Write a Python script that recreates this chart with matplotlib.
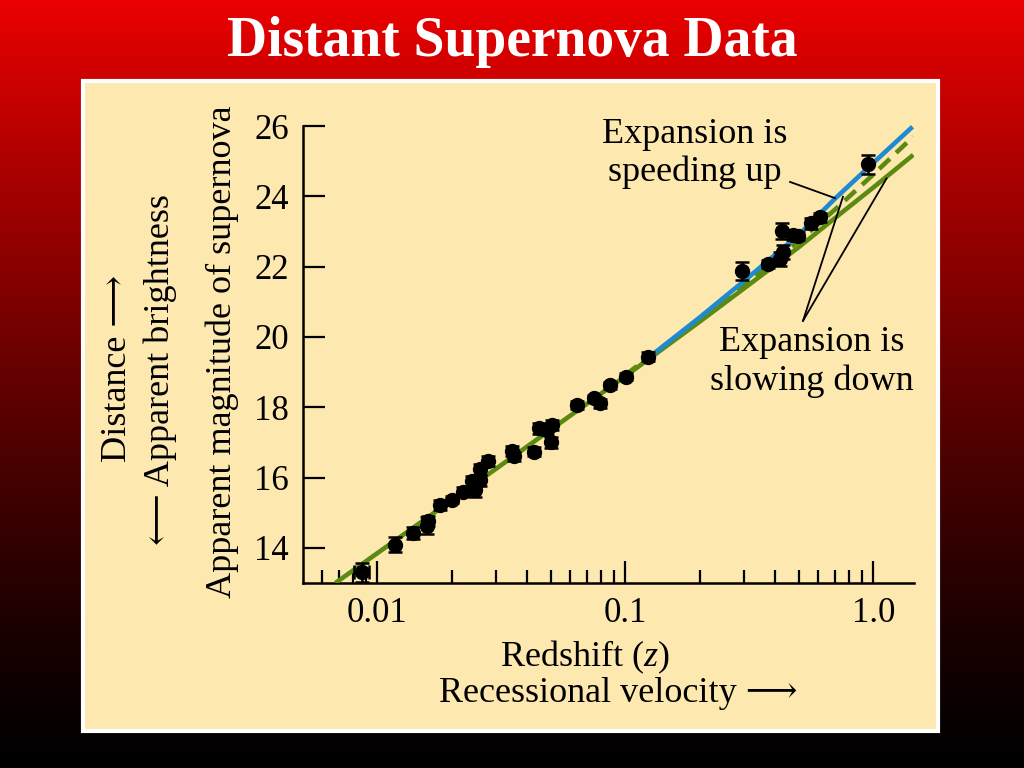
import numpy as np
import matplotlib
matplotlib.use("Agg")
import matplotlib.pyplot as plt
from matplotlib.patches import Rectangle
from matplotlib.ticker import FixedLocator, NullFormatter

plt.rcParams['font.family'] = ['Liberation Serif', 'DejaVu Serif', 'DejaVu Sans']
plt.rcParams['mathtext.fontset'] = 'custom'
plt.rcParams['mathtext.rm'] = 'Liberation Serif'
plt.rcParams['mathtext.it'] = 'Liberation Serif:italic'

# ---- data ----
z_data = [0.00868, 0.01174, 0.0140, 0.01585, 0.0160, 0.01795, 0.0200, 0.0221,
          0.0241, 0.0248, 0.0260, 0.0260, 0.0279, 0.0351, 0.0356, 0.0430,
          0.0447, 0.0483, 0.0508, 0.0503, 0.0639, 0.0745, 0.0793, 0.0870,
          0.1009, 0.124, 0.295, 0.376, 0.421, 0.434, 0.428, 0.476, 0.499,
          0.560, 0.610, 0.955]
m_data = [13.30, 14.09, 14.42, 14.63, 14.77, 15.22, 15.37, 15.60,
          15.89, 15.65, 15.92, 16.23, 16.47, 16.75, 16.60, 16.74,
          17.40, 17.36, 17.50, 17.00, 18.07, 18.25, 18.11, 18.62,
          18.87, 19.44, 21.88, 22.08, 22.21, 22.43, 23.02, 22.90, 22.87,
          23.23, 23.40, 24.91]
m_err = [0.28, 0.22, 0.17, 0.25, 0.15, 0.13, 0.10, 0.13,
         0.15, 0.20, 0.15, 0.15, 0.15, 0.15, 0.12, 0.12,
         0.15, 0.15, 0.15, 0.15, 0.12, 0.10, 0.12, 0.10,
         0.10, 0.12, 0.25, 0.12, 0.20, 0.20, 0.22, 0.15, 0.12,
         0.15, 0.12, 0.27]
z_err = [0.0006] + [0.0] * 35

slow_z = [0.00678, 0.03, 0.1, 0.2, 0.3, 0.5, 0.7, 1.0, 1.45]
slow_m = [13.0, 16.24, 18.88, 20.44, 21.37, 22.55, 23.38, 24.25, 25.18]
dash_z = [0.1, 0.2, 0.3, 0.5, 0.7, 1.0, 1.45]
dash_m = [18.92, 20.50, 21.48, 22.72, 23.62, 24.62, 25.70]
fast_z = [0.12, 0.2, 0.3, 0.5, 0.7, 1.0, 1.44]
fast_m = [19.33, 20.56, 21.58, 22.90, 23.93, 24.95, 25.98]

x_major = [0.01, 0.1, 1.0]
x_major_labels = ["0.01", "0.1", "1.0"]
x_minor = [0.006, 0.007, 0.008, 0.009, 0.02, 0.03, 0.04, 0.05, 0.06, 0.07, 0.08, 0.09,
           0.2, 0.3, 0.4, 0.5, 0.6, 0.7, 0.8, 0.9]
y_ticks = [14, 16, 18, 20, 22, 24, 26]

CREAM = '#FDE8B0'
GREEN = '#5C8A10'
BLUE = '#1E8AD2'

fig = plt.figure(figsize=(10.24, 7.68), dpi=100)

# background gradient (red -> black)
bg = fig.add_axes([0, 0, 1, 1], zorder=-10)
t = np.linspace(0, 1, 400)
r = 0.92 * (1 - t) ** 1.25
img = np.zeros((400, 2, 3))
img[:, :, 0] = r[:, None]
bg.imshow(img, aspect='auto', extent=[0, 1, 0, 1], origin='upper')
bg.set_axis_off()

# cream panel with white border
fig.patches.append(Rectangle((83 / 1024, 1 - 731 / 768), 855 / 1024, 650 / 768,
                             transform=fig.transFigure, facecolor=CREAM,
                             edgecolor='white', linewidth=3, zorder=-5))

fig.text(512 / 1024, 1 - 42 / 768, "Distant Supernova Data", color='white',
         fontsize=40, fontweight='bold', ha='center', va='center')

ax = fig.add_axes([303 / 1024, 1 - 583 / 768, 611 / 1024, 467.5 / 768])
ax.set_facecolor('none')
ax.set_xscale('log')
ax.set_xlim(0.00502, 1.46)
ax.set_ylim(13, 26.3)

ax.plot(slow_z, slow_m, color=GREEN, lw=3.3, solid_capstyle='butt', zorder=3)
ax.plot(dash_z, dash_m, color=GREEN, lw=3.3, dashes=(3.2, 1.9), zorder=3)
ax.plot(fast_z, fast_m, color=BLUE, lw=3.3, solid_capstyle='butt', zorder=4)

ax.errorbar(z_data, m_data, yerr=m_err, xerr=z_err, fmt='o', color='black',
            markersize=10, elinewidth=1.8, capsize=4.8, capthick=1.8, zorder=5)

for s in ['top', 'right']:
    ax.spines[s].set_visible(False)
for s in ['left', 'bottom']:
    ax.spines[s].set_linewidth(1.8)
ax.spines['left'].set_bounds(13, 26)

ax.xaxis.set_major_locator(FixedLocator(x_major))
ax.set_xticklabels(x_major_labels)
ax.xaxis.set_minor_locator(FixedLocator(x_minor))
ax.xaxis.set_minor_formatter(NullFormatter())
ax.set_yticks(y_ticks)
ax.tick_params(axis='both', which='major', direction='in', length=15.5, width=1.6,
               labelsize=25, pad=10)
ax.tick_params(axis='x', which='minor', direction='in', length=9.5, width=1.6)
ax.tick_params(axis='y', which='major', pad=10)

# y axis labels (three rotated lines)
fig.text(118 / 1024, 1 - 368 / 768, "Distance \u27f6", rotation=90, fontsize=26,
         ha='center', va='center')
fig.text(160 / 1024, 1 - 370 / 768, "\u27f5 Apparent brightness", rotation=90, fontsize=26,
         ha='center', va='center')
fig.text(222 / 1024, 1 - 352 / 768, "Apparent magnitude of supernova", rotation=90,
         fontsize=26, ha='center', va='center')

# x axis labels
fig.text(585 / 1024, 1 - 657 / 768, "Redshift ($z$)", fontsize=26, ha='center', va='center')
fig.text(618 / 1024, 1 - 693 / 768, "Recessional velocity \u27f6", fontsize=26,
         ha='center', va='center')

# annotations
ax.text(0.191, 25.22, "Expansion is\nspeeding up", fontsize=26, ha='center', va='center',
        linespacing=1.2)
ax.text(0.566, 19.29, "Expansion is\nslowing down", fontsize=26, ha='center', va='center',
        linespacing=1.2)
ax.plot([0.462, 0.701], [24.41, 23.95], color='black', lw=1.3, zorder=6)
ax.plot([0.521, 0.755], [20.46, 23.99], color='black', lw=1.3, zorder=6)
ax.plot([0.521, 1.132], [20.46, 24.51], color='black', lw=1.3, zorder=6)

fig.savefig("out.png", dpi=100)
